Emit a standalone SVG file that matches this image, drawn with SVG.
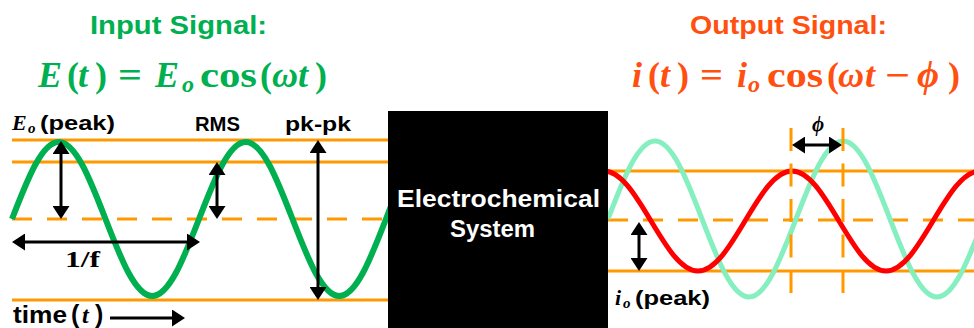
<svg xmlns="http://www.w3.org/2000/svg" width="974" height="328" viewBox="0 0 974 328">
<style>
.ol{stroke:#FF9900;stroke-width:3;fill:none}
.dash{stroke-dasharray:20 15}
.vdash{stroke-dasharray:23 12.5}
.arr{stroke:#000;stroke-width:3;fill:none;marker-end:url(#ah)}
.dbl{marker-start:url(#ah)}
.sans{font-family:"Liberation Sans",Arial,sans-serif;font-weight:bold}
.ser{font-family:"Liberation Serif","DejaVu Serif",serif;font-weight:bold}
.it{font-style:italic}
.g{fill:#00B050}
.r{fill:#FF5010}
</style>
<defs>
<marker id="ah" viewBox="0 0 13 17" refX="10" refY="8.5" markerWidth="13" markerHeight="17" markerUnits="userSpaceOnUse" orient="auto-start-reverse"><path d="M0,0L13,8.5L0,17z" fill="#000"/></marker>
</defs>
<rect width="974" height="328" fill="#fff"/>

<g id="input-signal">
<text class="sans g" x="90" y="34" font-size="26" textLength="177" lengthAdjust="spacingAndGlyphs">Input Signal:</text>
<g class="ser g" font-size="36">
<text class="it" x="38" y="87">E</text>
<text x="67" y="87">(</text>
<text class="it" x="78" y="87">t</text>
<text x="95" y="87">)</text>
<text x="118" y="87" textLength="24" lengthAdjust="spacingAndGlyphs">=</text>
<text class="it" x="155" y="87">E</text>
<text class="it" x="182" y="92" font-size="24">o</text>
<text x="200" y="87" textLength="57" lengthAdjust="spacingAndGlyphs">cos</text>
<text x="260" y="87">(</text>
<text class="it" x="272" y="87">ω</text>
<text class="it" x="298" y="87">t</text>
<text x="315" y="87">)</text>
</g>
<line class="ol" x1="12" y1="140" x2="388" y2="140"/>
<line class="ol" x1="12" y1="162" x2="388" y2="162"/>
<line class="ol dash" x1="12" y1="219" x2="388" y2="219"/>
<line class="ol" x1="12" y1="300" x2="388" y2="300"/>
<path d="M12,219C27.25,179.6 41.83,142 58.75,142C75.67,142 90.25,179.6 105.5,219C120.75,258.4 135.33,296 152.25,296C169.17,296 183.75,258.4 199,219C214.25,179.6 228.83,142 245.75,142C262.67,142 277.25,179.6 292.5,219C307.75,258.4 322.33,296 339.25,296C356.17,296 370.75,258.4 386,219C401.25,179.6 415.83,142 432.75,142" fill="none" stroke="#00B050" stroke-width="6"/>
<text class="ser it" x="12" y="130" font-size="22" fill="#000">E</text>
<text class="ser it" x="28" y="133" font-size="15" fill="#000">o</text>
<text class="sans" x="40" y="130" font-size="21" textLength="75" lengthAdjust="spacingAndGlyphs">(peak)</text>
<text class="sans" x="195" y="131" font-size="20" textLength="45" lengthAdjust="spacingAndGlyphs">RMS</text>
<text class="sans" x="285" y="131" font-size="21" textLength="66" lengthAdjust="spacingAndGlyphs">pk-pk</text>
<text class="ser" x="65" y="267" font-size="24" textLength="35" lengthAdjust="spacingAndGlyphs">1/f</text>
<text class="sans" x="13" y="323" font-size="23" textLength="54" lengthAdjust="spacingAndGlyphs">time</text>
<text class="sans" x="71" y="323" font-size="25">(</text>
<text class="ser it" x="82" y="323" font-size="24">t</text>
<text class="sans" x="95" y="323" font-size="25">)</text>
</g>

<g id="output-signal">
<text class="sans r" x="690" y="34" font-size="26" textLength="197" lengthAdjust="spacingAndGlyphs">Output Signal:</text>
<g class="ser r" font-size="36">
<text class="it" x="632" y="87">i</text>
<text x="648" y="87">(</text>
<text class="it" x="660" y="87">t</text>
<text x="677" y="87">)</text>
<text x="700" y="87" textLength="23" lengthAdjust="spacingAndGlyphs">=</text>
<text class="it" x="737" y="87">i</text>
<text class="it" x="748" y="92" font-size="24">o</text>
<text x="767" y="87" textLength="56" lengthAdjust="spacingAndGlyphs">cos</text>
<text x="827" y="87">(</text>
<text class="it" x="838" y="87">ω</text>
<text class="it" x="865" y="87">t</text>
<text x="885" y="87" textLength="25" lengthAdjust="spacingAndGlyphs">−</text>
<text class="it" x="917" y="87" font-size="38">ϕ</text>
<text x="948" y="87">)</text>
</g>
<line class="ol" x1="608" y1="171" x2="974" y2="171"/>
<line class="ol dash" x1="608" y1="220" x2="974" y2="220"/>
<line class="ol" x1="608" y1="271" x2="974" y2="271"/>
<path d="M608,219C623.33,179 637.99,141 655,141C672.01,141 686.67,179 702,219C717.33,259 731.99,297 749,297C766.01,297 780.67,259 796,219C811.33,179 825.99,141 843,141C860.01,141 874.67,179 890,219C905.33,259 919.99,297 937,297C954.01,297 968.67,259 984,219" fill="none" stroke="#86EFBF" stroke-width="5"/>
<path d="M604,171C621.01,171 635.67,195.4 651,221C666.33,246.6 680.99,271 698,271C715.01,271 729.67,246.6 745,221C760.33,195.4 774.99,171 792,171C809.01,171 823.67,195.4 839,221C854.33,246.6 868.99,271 886,271C903.01,271 917.67,246.6 933,221C948.33,195.4 962.99,171 980,171" fill="none" stroke="#FF0000" stroke-width="5"/>
<line class="ol vdash" x1="791" y1="128" x2="791" y2="293"/>
<line class="ol vdash" x1="843" y1="128" x2="843" y2="293"/>
<text class="ser it" x="812" y="131" font-size="21" fill="#000">ϕ</text>
<text class="ser it" x="615" y="305" font-size="22" fill="#000">i</text>
<text class="ser it" x="623" y="308" font-size="15" fill="#000">o</text>
<text class="sans" x="635" y="305" font-size="21" textLength="75" lengthAdjust="spacingAndGlyphs">(peak)</text>
</g>

<g id="connectors">
<line class="arr dbl" x1="61" y1="144" x2="61" y2="216"/>
<line class="arr dbl" x1="217" y1="165" x2="217" y2="216"/>
<line class="arr dbl" x1="318" y1="143" x2="318" y2="297"/>
<line class="arr dbl" x1="15" y1="242" x2="197" y2="242"/>
<line class="arr" x1="110" y1="318" x2="182" y2="318"/>
<line class="arr dbl" x1="795" y1="145" x2="839" y2="145"/>
<line class="arr dbl" x1="639" y1="225" x2="639" y2="268"/>
</g>

<g id="electrochemical-system">
<rect x="388" y="111" width="220" height="217" fill="#000"/>
<text class="sans" x="397" y="207" font-size="23" fill="#fff" textLength="203" lengthAdjust="spacingAndGlyphs">Electrochemical</text>
<text class="sans" x="450" y="237" font-size="23" fill="#fff" textLength="85" lengthAdjust="spacingAndGlyphs">System</text>
</g>
</svg>
